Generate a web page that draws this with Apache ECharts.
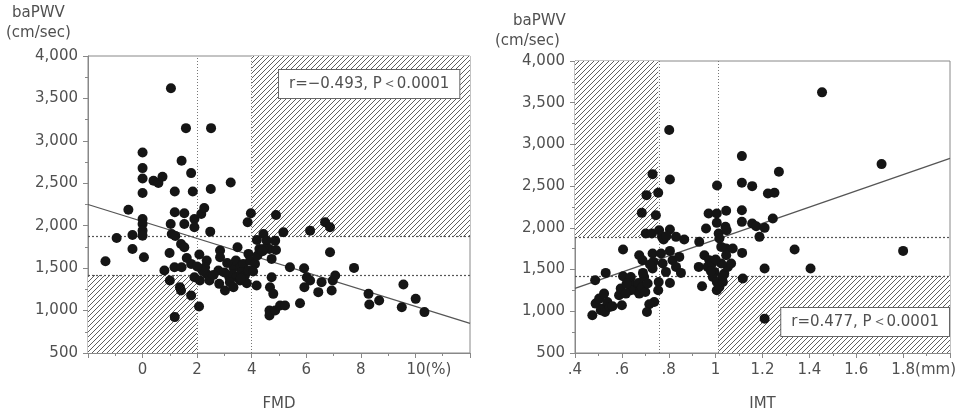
<!DOCTYPE html>
<html>
<head>
    <meta charset="utf-8">
    <title>baPWV vs FMD / IMT</title>
    <script src="https://cdn.jsdelivr.net/npm/echarts@6/dist/echarts.min.js"></script>
    <style>
        html, body { margin: 0; padding: 0; background: #fff; }
        #chart { width: 957px; height: 414px; }
    </style>
</head>
<body>
    <div id="chart"></div>

    <script type="text/javascript">
        // FMD (%) vs baPWV (cm/sec)
        var fmdX = [1.04, 1.59, 2.51, 1.43, 1.78, 0, 0, 0, 0, 0.4, 0.58, 0.73, 3.23, 1.84, 1.18, 2.5,
            -0.52, 0, 0, 0, 0, -0.95, -0.37, -0.37, 0.05, -1.36, 1.03, 1.18, 1.53, 1.53, 1.07, 1.9,
            1.9, 2.15, 2.26, 2.48, 1.41, 1.53, 0.99, 0.8, 1.0, 1.17, 1.43, 1.37, 1.41, 1.78, 2.07, 1.18,
            1.78, 2.08, 1.9, 2.1, 2.35, 2.29, 2.35, 2.45, 2.84, 2.84, 2.78, 2.81, 3.02, 3.18, 3.33, 3.48,
            3.42, 3.3, 3.45, 3.57, 3.69, 3.63, 3.75, 3.88, 3.57, 3.82, 3.2, 3.33, 3.88, 3.94, 4.12, 4.21,
            4.28, 3.97, 3.85, 4.19, 4.43, 4.55, 4.65, 4.43, 4.18, 4.73, 4.73, 4.67, 4.79, 4.65, 4.65, 4.86,
            5.04, 5.22, 4.86, 4.89, 4.89, 5.16, 5.4, 5.77, 5.92, 5.93, 6.02, 6.14, 6.14, 6.44, 6.56, 6.69,
            6.87, 6.87, 6.93, 6.97, 7.06, 7.75, 8.28, 8.31, 8.67, 9.5, 9.56, 10.01, 10.33,
            1.2, 2.2, 3.0, 3.1, 3.6, 2.6, 1.62, 4.05, 4.4, 2.0];
        var fmdY = [3620, 3150, 3150, 2765, 2620, 2863, 2679, 2557, 2385, 2530, 2503, 2577, 2510, 2404, 2404, 2432,
            2189, 2079, 2020, 1942, 1883, 1856, 1891, 1726, 1628, 1581, 2020, 2158, 2146, 2020, 1903, 2079,
            1981, 2138, 2209, 1930, 1785, 1746, 1679, 1472, 1354, 1511, 1511, 1275, 1236, 1178, 1048, 923,
            1550, 1660, 1393, 1354, 1589, 1511, 1432, 1354, 1707, 1628, 1472, 1315, 1236, 1393, 1511, 1746,
            1589, 1432, 1393, 1511, 1550, 1452, 1413, 1472, 1354, 1323, 1335, 1275, 1668, 1589, 1550, 1648,
            1726, 2146, 2040, 1832, 1903, 1824, 1726, 1726, 1295, 1609, 1393, 1275, 1197, 1001, 942, 1001,
            1060, 1060, 1824, 1714, 2126, 1922, 1511, 1087, 1499, 1275, 1393, 1942, 1354, 1217, 1335, 2040,
            1981, 1687, 1236, 1354, 1413, 1503, 1197, 1072, 1119, 1040, 1307, 1138, 982,
            1880, 1470, 1450, 1560, 1380, 1420, 1620, 1460, 1700, 1520];

        // IMT (mm) vs baPWV (cm/sec)
        var imtX = [1.454, 1.708, 1.80, 0.802, 0.805, 0.731, 0.755, 0.705, 0.685, 0.745, 0.702, 0.728, 0.759, 0.771,
            0.778, 0.805, 0.831, 0.866, 0.605, 0.674, 0.688, 0.731, 0.735, 0.731, 0.767, 0.774, 0.788, 0.805,
            0.816, 0.831, 0.845, 0.852, 0.805, 0.757, 0.755, 0.738, 0.717, 0.707, 0.486, 0.531, 0.474, 0.488,
            0.503, 0.517, 0.524, 0.538, 0.51, 0.528, 0.548, 0.588, 0.6, 0.56, 0.605, 0.595, 0.631, 0.638,
            0.652, 0.66, 0.671, 0.674, 0.685, 0.695, 0.7, 0.71, 0.638, 0.617, 0.93, 0.928, 0.942, 0.959,
            0.97, 1.006, 1.005, 1.045, 1.005, 1.042, 1.013, 1.047, 1.016, 0.952, 0.973, 0.966, 0.985, 0.995,
            0.988, 1.005, 1.005, 1.016, 1.031, 1.037, 1.052, 1.066, 1.045, 1.073, 1.024, 1.045, 1.024, 1.112,
            1.112, 1.156, 1.112, 1.112, 1.113, 1.116, 1.156, 1.173, 1.209, 1.187, 1.223, 1.251, 1.27, 1.244,
            1.209, 1.209, 1.337, 1.405,
            0.72, 0.69, 0.79, 0.62, 1.0, 1.03, 0.98];
        var imtY = [3624, 2764, 1724, 3172, 2580, 2644, 2420, 2392, 2180, 2152, 1932, 1932, 1972, 1892,
            1860, 1980, 1892, 1860, 1740, 1672, 1612, 1692, 1592, 1512, 1692, 1572, 1472, 1724,
            1612, 1532, 1652, 1460, 1340, 1352, 1252, 1112, 1084, 992, 1372, 1460, 952, 1092,
            1152, 1032, 1212, 1112, 1012, 992, 1052, 1192, 1072, 1060, 1420, 1272, 1372, 1412,
            1312, 1252, 1340, 1212, 1284, 1412, 1232, 1332, 1252, 1212, 1832, 1532, 1300, 1992,
            2172, 2508, 2172, 2204, 2060, 2012, 1932, 1972, 1872, 1672, 1612, 1532, 1572, 1472,
            1412, 1352, 1252, 1292, 1352, 1452, 1532, 1572, 1752, 1752, 1772, 1672, 1572, 2860,
            2540, 2500, 2212, 2072, 1700, 1392, 2052, 2020, 2000, 1892, 2412, 2420, 2672, 2112,
            1512, 912, 1740, 1512,
            1560, 1460, 1900, 1330, 1620, 1420, 1480];

        // regression lines (end points) and cut-off values
        var fmdFit = [[-2, 2250], [12, 850]];
        var imtFit = [[0.4, 1275], [2.0, 2833]];
        var fmdCutX = [2, 4];
        var fmdCutY = [1420, 1870];
        var imtCutX = [0.755, 1.012];
        var imtCutY = [1425, 1890];

        var fmdTickLabels = { 0: '0', 2: '2', 4: '4', 6: '6', 8: '8', 10: '10(%)' };
        var imtTickLabels = { 0.4: '.4', 0.6: '.6', 0.8: '.8', 1: '1', 1.2: '1.2', 1.4: '1.4', 1.6: '1.6', 1.8: '1.8(mm)' };

        var fmdStat = 'r=\u22120.493, P\uff1c0.0001';
        var imtStat = 'r=0.477, P\uff1c0.0001';

        function zip(xs, ys) {
            var out = [];
            for (var i = 0; i < xs.length; i++) out.push([xs[i], ys[i]]);
            return out;
        }

        // diagonal hatch pattern
        function makeHatch() {
            var s = 5;
            var c = document.createElement('canvas');
            c.width = s; c.height = s;
            var ctx = c.getContext('2d');
            ctx.fillStyle = '#ffffff';
            ctx.fillRect(0, 0, s, s);
            ctx.strokeStyle = '#5e5e5e';
            ctx.lineWidth = 1;
            ctx.beginPath();
            ctx.moveTo(0, s); ctx.lineTo(s, 0);
            ctx.moveTo(-1, 1); ctx.lineTo(1, -1);
            ctx.moveTo(s - 1, s + 1); ctx.lineTo(s + 1, s - 1);
            ctx.stroke();
            return { image: c, repeat: 'repeat' };
        }
        var hatch = makeHatch();

        var textColor = '#505050';
        var fontFamily = 'DejaVu Sans';

        function yAxisCfg(idx) {
            return {
                gridIndex: idx, type: 'value', min: 500, max: 4000, interval: 500,
                axisLine: { show: true, onZero: false, lineStyle: { color: '#888' } },
                axisTick: { show: true, length: 5, inside: false, lineStyle: { color: '#888' } },
                minorTick: { show: true, splitNumber: 2, length: 3, lineStyle: { color: '#888' } },
                splitLine: { show: false },
                axisLabel: {
                    color: textColor, fontSize: 15, fontFamily: fontFamily, margin: 10,
                    formatter: function (v) { return v.toLocaleString('en-US'); }
                }
            };
        }

        function xAxisCfg(idx, min, max, interval, labels, unitWidth, name) {
            return {
                gridIndex: idx, type: 'value', min: min, max: max, interval: interval,
                name: name, nameLocation: 'middle', nameGap: 44,
                nameTextStyle: { color: textColor, fontSize: 15, fontFamily: fontFamily },
                axisLine: { show: true, onZero: false, lineStyle: { color: '#888' } },
                axisTick: { show: true, length: 5, lineStyle: { color: '#888' } },
                minorTick: { show: true, splitNumber: 2, length: 3, lineStyle: { color: '#888' } },
                splitLine: { show: false },
                axisLabel: {
                    color: textColor, fontSize: 15, fontFamily: fontFamily, margin: 10,
                    showMinLabel: true, showMaxLabel: true,
                    formatter: function (v) {
                        var key = Math.round(v * 10) / 10;
                        var t = labels[key];
                        if (t === undefined) return '';
                        if (t.indexOf('(') > 0) return '{p|}' + t;
                        return t;
                    },
                    rich: { p: { width: unitWidth } }
                }
            };
        }

        function cutLines(xs, ys) {
            var d = [];
            xs.forEach(function (x) {
                d.push({ xAxis: x, lineStyle: { type: [1, 2], color: '#777', width: 1 } });
            });
            ys.forEach(function (y) {
                d.push({ yAxis: y, lineStyle: { type: [2, 2], color: '#555', width: 1.2 } });
            });
            return d;
        }

        function scatterSeries(idx, data, areas, xs, ys) {
            return {
                type: 'scatter', xAxisIndex: idx, yAxisIndex: idx, data: data,
                symbolSize: 10, itemStyle: { color: '#151515', opacity: 1 }, z: 5,
                markArea: {
                    silent: true,
                    itemStyle: { color: hatch, borderWidth: 0 },
                    data: areas
                },
                markLine: {
                    silent: true, symbol: 'none', label: { show: false },
                    data: cutLines(xs, ys)
                }
            };
        }

        function fitSeries(idx, data) {
            return {
                type: 'line', xAxisIndex: idx, yAxisIndex: idx, data: data,
                showSymbol: false, symbol: 'none', silent: true, z: 4,
                lineStyle: { color: '#555', width: 1.3 }
            };
        }

        var myChart = echarts.init(document.getElementById('chart'), null, { renderer: 'canvas' });

        var option = {
            animation: false,
            backgroundColor: '#ffffff',
            grid: [
                { left: 88, top: 56, width: 382, height: 297, outerBoundsMode: 'none', show: true, borderColor: '#888', borderWidth: 1, backgroundColor: 'transparent' },
                { left: 575, top: 61, width: 375, height: 292, outerBoundsMode: 'none', show: true, borderColor: '#888', borderWidth: 1, backgroundColor: 'transparent' }
            ],
            xAxis: [
                xAxisCfg(0, -2, 12, 2, fmdTickLabels, 27, 'FMD'),
                xAxisCfg(1, 0.4, 2.0, 0.2, imtTickLabels, 41, 'IMT')
            ],
            yAxis: [yAxisCfg(0), yAxisCfg(1)],
            series: [
                scatterSeries(0, zip(fmdX, fmdY), [
                    [{ xAxis: fmdCutX[1], yAxis: fmdCutY[1] }, { xAxis: 12, yAxis: 4000 }],
                    [{ xAxis: -2, yAxis: 500 }, { xAxis: fmdCutX[0], yAxis: fmdCutY[0] }]
                ], fmdCutX, fmdCutY),
                fitSeries(0, fmdFit),
                scatterSeries(1, zip(imtX, imtY), [
                    [{ xAxis: 0.4, yAxis: imtCutY[1] }, { xAxis: imtCutX[0], yAxis: 4000 }],
                    [{ xAxis: imtCutX[1], yAxis: 500 }, { xAxis: 2.0, yAxis: imtCutY[0] }]
                ], imtCutX, imtCutY),
                fitSeries(1, imtFit)
            ],
            graphic: [
                { type: 'text', left: 12, top: 6, style: { text: 'baPWV', fill: textColor, font: '15px ' + fontFamily } },
                { type: 'text', left: 6, top: 26, style: { text: '(cm/sec)', fill: textColor, font: '15px ' + fontFamily } },
                { type: 'text', left: 513, top: 14, style: { text: 'baPWV', fill: textColor, font: '15px ' + fontFamily } },
                { type: 'text', left: 495, top: 34, style: { text: '(cm/sec)', fill: textColor, font: '15px ' + fontFamily } },
                {
                    type: 'text', left: 278, top: 69, z: 10,
                    style: {
                        text: fmdStat, fill: textColor, font: '15px ' + fontFamily,
                        backgroundColor: '#fff', borderColor: '#666', borderWidth: 1, padding: [7, 10, 6, 10]
                    }
                },
                {
                    type: 'text', right: 7, top: 307, z: 10,
                    style: {
                        text: imtStat, fill: textColor, font: '15px ' + fontFamily,
                        backgroundColor: '#fff', borderColor: '#666', borderWidth: 1, padding: [7, 10, 6, 10]
                    }
                }
            ]
        };

        myChart.setOption(option);
    </script>
</body>
</html>
